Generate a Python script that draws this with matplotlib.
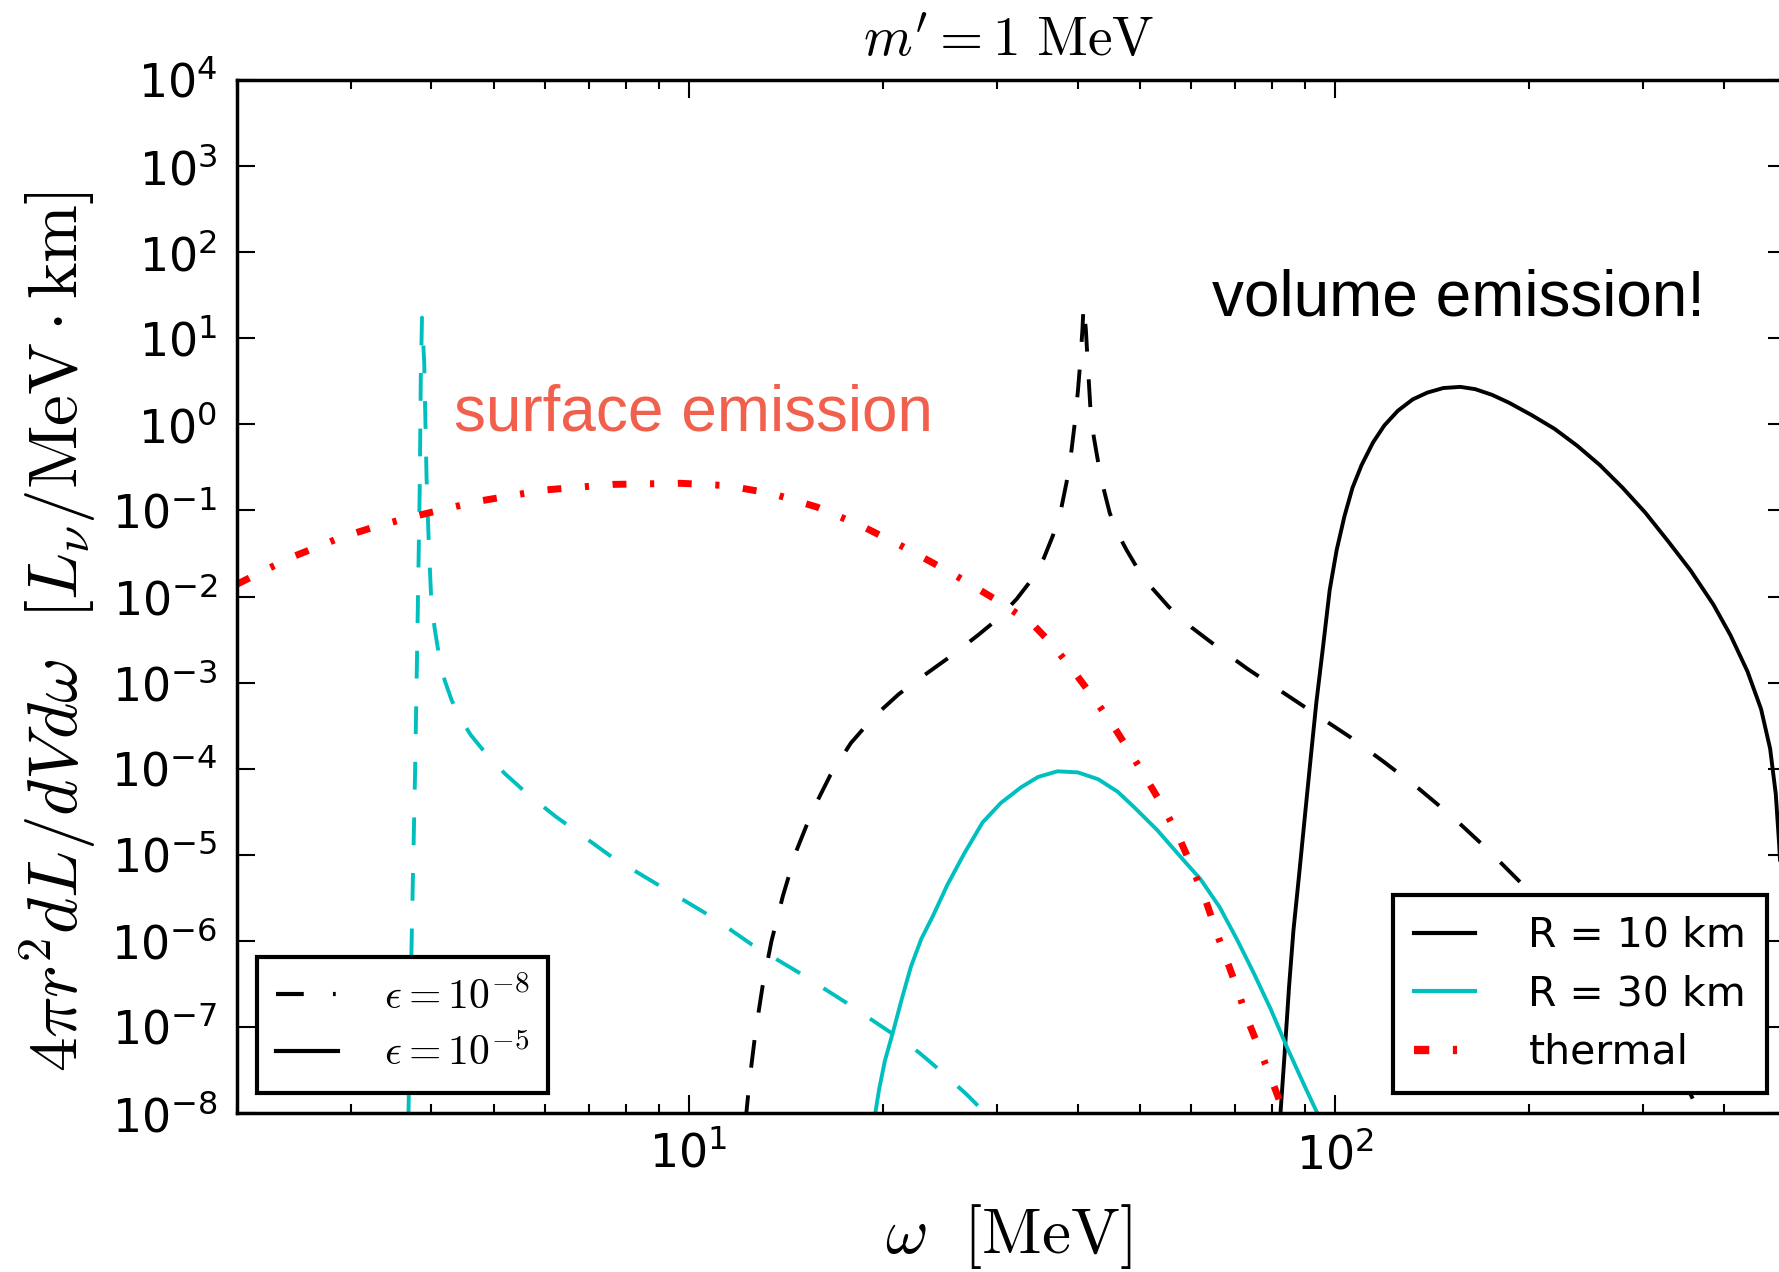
"""
Dark-photon emission spectra, m' = 1 MeV: volume vs surface emission.
Writes out.png
"""

import matplotlib
matplotlib.use('Agg')
import matplotlib.pyplot as plt
from matplotlib.lines import Line2D
from matplotlib.font_manager import FontProperties

# values (omega in MeV, 4 pi r^2 dL/dVdw)
# eps = 1e-8, R = 10 km (black dashed)
BD_W = [12.24, 12.44, 12.69, 13.01, 13.43, 13.99, 14.68, 15.54, 16.58, 17.83,
        19.34, 21.14, 23.19, 25.66, 28.04, 30.17, 32.19, 34.05, 35.46, 36.63,
        37.67, 38.45, 39.07, 39.55, 40.03, 40.36, 40.69, 40.85,
        41.18, 41.51, 41.85, 42.36, 43.05, 43.93, 44.83, 46.12, 47.63, 49.6,
        52.07, 55.34, 59.98, 66.37, 73.42, 82.9, 93.6, 105.7, 119.3, 134.7,
        152.0, 171.6, 193.8, 218.8, 247.0, 278.9, 314.8, 355.4, 370.2]
BD_L = [7.67e-9, 2.58e-8, 8.69e-8, 2.92e-7, 9.84e-7, 3.31e-6, 1.11e-5, 3.23e-5,
        8.51e-5, 1.99e-4, 4.00e-4, 7.34e-4, 1.23e-3, 2.12e-3, 3.56e-3, 5.60e-3,
        9.38e-3, 0.0162, 0.0280, 0.0513, 0.100, 0.213, 0.456, 0.973, 2.42,
        5.16, 12.8, 24.3,
        12.8, 4.43, 1.58, 0.718, 0.357, 0.1726, 0.0942, 0.0545, 0.0346, 0.0207,
        0.0127, 7.59e-3, 4.40e-3, 2.47e-3, 1.43e-3, 7.80e-4, 4.25e-4, 2.32e-4,
        1.19e-4, 5.92e-5, 2.77e-5, 1.19e-5, 4.77e-6, 1.81e-6, 6.25e-7, 2.16e-7,
        6.43e-8, 1.64e-8, 8.93e-9]

# eps = 1e-8, R = 30 km (cyan dashed)
CD_W = [3.683, 3.712, 3.742, 3.773, 3.804, 3.836, 3.851, 3.867, 3.898, 3.930,
        3.962, 3.994, 4.043, 4.109, 4.193, 4.296, 4.419, 4.602, 4.849, 5.195,
        5.632, 6.232, 6.894, 7.627, 8.610, 9.721, 10.97, 12.54, 14.86, 17.54,
        20.63, 22.73, 24.64, 26.94, 29.21]
CD_L = [7.67e-9, 2.16e-7, 4.5e-6, 9.3e-5, 3.56e-3, 0.184, 3.81, 17.4, 5.16,
        0.248, 0.0403, 0.0103, 4.40e-3, 2.06e-3, 1.06e-3, 6.31e-4, 4.00e-4,
        2.46e-4, 1.52e-4, 8.77e-5, 5.08e-5, 2.77e-5, 1.61e-5, 9.29e-6, 5.38e-6,
        3.12e-6, 1.81e-6, 9.0e-7, 4.22e-7, 1.91e-7, 8.43e-8, 5.04e-8, 3.01e-8,
        1.64e-8, 8.93e-9]

# eps = 1e-5, R = 10 km (black solid)
BS_W = [82.2, 83.6, 84.95, 86.3, 88.1, 89.87, 91.7, 93.6, 95.9, 98.2, 100.65,
        103.5, 106.5, 110.0, 114.6, 119.3, 125.2, 132.0, 139.1, 147.2, 156.4,
        164.9, 175.1, 186.1, 201.8, 218.8, 237.3, 257.2, 278.9, 302.4, 327.8,
        355.4, 385.4, 409.5, 435.2, 456.7, 471.7, 481.3, 487.2, 493.2, 497.2]
BS_L = [7.67e-9, 4.74e-8, 2.92e-7, 1.33e-6, 6.08e-6, 2.77e-5, 1.26e-4, 5.75e-4,
        2.62e-3, 0.01197, 0.0346, 0.0859, 0.1835, 0.3365, 0.618, 0.973, 1.442,
        1.954, 2.345, 2.647, 2.73, 2.57, 2.207, 1.785, 1.279, 0.889, 0.564,
        0.3365, 0.1835, 0.0942, 0.0441, 0.02004, 8.07e-3, 3.56e-3, 1.346e-3,
        4.94e-4, 1.71e-4, 5.08e-5, 1.30e-5, 2.45e-6, 5.37e-7]

# eps = 1e-5, R = 30 km (cyan solid)
CS_W = [19.34, 19.72, 20.13, 20.71, 21.39, 22.09, 22.91, 23.86, 25.15, 26.73,
        28.51, 30.41, 32.71, 34.74, 37.22, 40.03, 43.05, 46.12, 49.0, 53.13,
        57.63, 61.95, 66.37, 70.51, 74.91, 79.61, 84.58, 89.87, 95.5]
CS_L = [7.67e-9, 1.91e-8, 4.07e-8, 8.69e-8, 2.16e-7, 5.06e-7, 1.05e-6, 1.92e-6,
        4.49e-6, 1.05e-5, 2.38e-5, 3.99e-5, 6.10e-5, 8.02e-5, 9.33e-5, 9.06e-5,
        7.54e-5, 5.41e-5, 3.53e-5, 1.93e-5, 9.59e-6, 5.22e-6, 2.45e-6, 1.05e-6,
        4.22e-7, 1.60e-7, 5.52e-8, 2.03e-8, 7.67e-9]

# thermal (red dash-dot)
TH_W = [2.0, 2.222, 2.459, 2.889, 3.330, 3.836, 4.695, 5.98, 7.63, 9.72,
        11.43, 13.43, 15.80, 18.57, 21.83, 25.65, 30.17, 34.05, 36.5, 39.22,
        42.2, 45.19, 48.2, 51.03, 54.2, 57.14, 59.9, 63.22, 66.4, 69.95, 73.4,
        76.46, 79.6, 84.6]
TH_L = [0.0139, 0.0207, 0.0297, 0.0483, 0.0675, 0.0885, 0.127, 0.173, 0.201,
        0.207, 0.195, 0.158, 0.1096, 0.0655, 0.0356, 0.0183, 8.83e-3, 4.81e-3,
        2.79e-3, 1.43e-3, 6.9e-4, 3.33e-4, 1.56e-4, 7.78e-5, 3.64e-5, 1.71e-5,
        7.7e-6, 2.85e-6, 9.8e-7, 3.40e-7, 1.18e-7, 5.52e-8, 2.58e-8, 7.7e-9]

YTICKS = [10.0**k for k in range(-8, 5)]
XTICKS = [10, 100]

DASHED  = (0, (20, 20))
DASHDOT = (0, (10, 17, 3, 17))
LEG_DASHDOT = (0, (20, 21, 2, 21))
CYAN = '#00BFBF'
SALMON = '#F0604D'
LW = 2.8

plt.rcParams['lines.scale_dashes'] = False
plt.rcParams['axes.unicode_minus'] = False
plt.rcParams['lines.dash_capstyle'] = 'butt'

fig = plt.figure(figsize=(17.79, 12.72), dpi=100)
ax = fig.add_axes([0.1332, 0.125, 0.871, 0.812])

ax.plot(BD_W, BD_L, color='k', lw=LW, linestyle=DASHED)
ax.plot(CD_W, CD_L, color=CYAN, lw=LW, linestyle=DASHED)
ax.plot(BS_W, BS_L, color='k', lw=LW)
ax.plot(CS_W, CS_L, color=CYAN, lw=LW)
ax.plot(TH_W, TH_L, color='r', lw=5, linestyle=DASHDOT)

ax.set_xscale('log')
ax.set_yscale('log')
ax.set_xlim(2, 500)
ax.set_ylim(1e-8, 1e4)
ax.set_yticks(YTICKS)
ax.yaxis.set_minor_locator(matplotlib.ticker.NullLocator())
ax.set_xticks(XTICKS)
ax.xaxis.set_minor_locator(matplotlib.ticker.LogLocator(subs=range(2, 10)))
ax.xaxis.set_minor_formatter(matplotlib.ticker.NullFormatter())

ax.tick_params(which='both', direction='in', top=True, right=True,
               labelsize=33, pad=14, width=1.5)
ax.tick_params(which='major', length=13)
ax.tick_params(which='minor', length=6.5)
for s in ax.spines.values():
    s.set_linewidth(2.5)

ax.set_xlabel(r'$\omega\ \ [\mathrm{MeV}]$', fontsize=47, math_fontfamily='cm')
ax.xaxis.set_label_coords(0.498, -0.12)
ax.xaxis.label.set_va('center')
ax.set_ylabel(r'$4\pi r^2 dL/dVd\omega\ \ [L_\nu/\mathrm{MeV}\cdot\mathrm{km}]$',
              fontsize=50, math_fontfamily='cm')
ax.yaxis.set_label_coords(-0.116, 0.466)
ax.yaxis.label.set_va('center')
ax.text(0.498, 1.039, r"$m' = 1\ \mathrm{MeV}$", transform=ax.transAxes,
        ha='center', va='center', fontsize=40, math_fontfamily='cm')

ax.text(0.140, 0.677, 'surface emission', transform=ax.transAxes,
        color=SALMON, fontsize=46, family='Liberation Sans', va='center')
ax.text(0.629, 0.789, 'volume emission!', transform=ax.transAxes,
        color='k', fontsize=46, family='Liberation Sans', va='center')

h1 = [Line2D([], [], color='k', lw=3, linestyle=LEG_DASHDOT),
      Line2D([], [], color='k', lw=3)]
leg1 = ax.legend(h1, [r'$\epsilon = 10^{-8}$', r'$\epsilon = 10^{-5}$'],
                 loc='lower left', prop=FontProperties(size=30, math_fontfamily='cm'),
                 fancybox=False, framealpha=1, edgecolor='k',
                 handlelength=1.5, handletextpad=1.1, borderpad=0.45,
                 labelspacing=0.35, borderaxespad=0.48)
leg1.get_frame().set_linewidth(3)
ax.add_artist(leg1)

h2 = [Line2D([], [], color='k', lw=3),
      Line2D([], [], color=CYAN, lw=3),
      Line2D([], [], color='r', lw=6, linestyle=(0, (11, 17, 3, 17)))]
leg2 = ax.legend(h2, ['R = 10 km', 'R = 30 km', 'thermal'], loc='lower right',
                 fontsize=29.5, fancybox=False, framealpha=1, edgecolor='k',
                 handlelength=1.5, handletextpad=1.3, borderpad=0.5,
                 labelspacing=0.45, borderaxespad=0.48)
leg2.get_frame().set_linewidth(3)

fig.savefig('out.png', dpi=100)
